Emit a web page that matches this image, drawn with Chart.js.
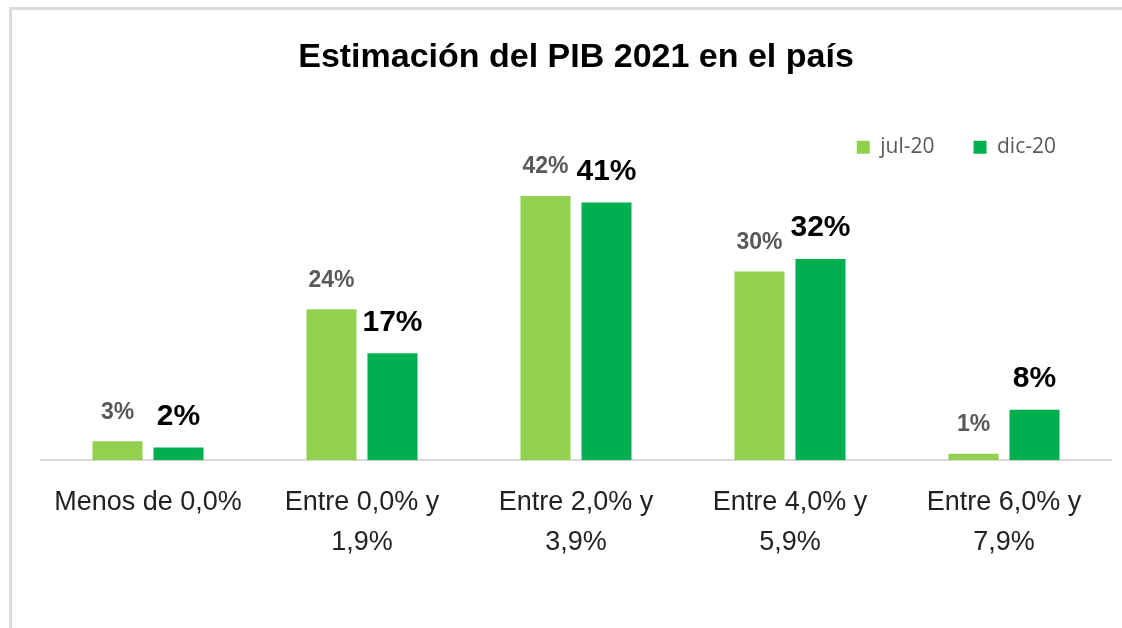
<!DOCTYPE html>
<html>
<head>
<meta charset="utf-8">
<script src="https://cdn.jsdelivr.net/npm/chart.js@4/dist/chart.umd.min.js"></script>
<style>
  html, body { margin: 0; padding: 0; background: #fff; }
  #wrap { position: relative; width: 1122px; height: 628px; overflow: hidden; }
  #frame {
    position: absolute; left: 9px; top: 7px; right: 0; bottom: 0;
    border-top: 3px solid #dadada; border-left: 3px solid #dadada;
  }
  canvas { position: absolute; left: 0; top: 0; }
</style>
</head>
<body>
<div id="wrap">
  <div id="frame"></div>
  <canvas id="chart-pib" width="1122" height="628"></canvas>
</div>
<script>
const CATEGORIES = [
  ['Menos de 0,0%'],
  ['Entre 0,0% y', '1,9%'],
  ['Entre 2,0% y', '3,9%'],
  ['Entre 4,0% y', '5,9%'],
  ['Entre 6,0% y', '7,9%'],
];
const SERIES_NAMES = ['jul-20', 'dic-20'];
const JUL_20 = [3, 24, 42, 30, 1];
const DIC_20 = [2, 17, 41, 32, 8];

const LIGHT = '#92d050';
const DARK = '#00b050';

Chart.defaults.font.family = "'Liberation Sans', Arial, sans-serif";

const canvas = document.getElementById('chart-pib');

new Chart(canvas.getContext('2d'), {
  type: 'bar',
  data: {
    labels: CATEGORIES,
    datasets: [
      { label: SERIES_NAMES[0], data: JUL_20, backgroundColor: LIGHT,
        categoryPercentage: 0.57, barPercentage: 0.82 },
      { label: SERIES_NAMES[1], data: DIC_20, backgroundColor: DARK,
        categoryPercentage: 0.57, barPercentage: 0.82 },
    ],
  },
  options: {
    responsive: false,
    animation: false,
    layout: { padding: { left: 41, right: 11, top: 0, bottom: 43 } },
    plugins: {
      title: {
        display: true,
        text: 'Estimación del PIB 2021 en el país',
        color: '#000',
        font: { size: 34, weight: 'bold' },
        padding: { top: 37, bottom: 20 },
      },
      legend: {
        position: 'top',
        align: 'end',
        labels: {
          boxWidth: 13,
          boxHeight: 13,
          padding: 39,
          color: '#595959',
          font: { family: "'Open Sans', sans-serif", size: 21 },
        },
      },
      tooltip: { enabled: false },
    },
    scales: {
      x: {
        grid: { display: false, drawTicks: false },
        border: { display: true, color: '#d9d9d9', width: 2 },
        ticks: {
          padding: 23,
          color: '#222',
          maxRotation: 0,
          font: { size: 27, lineHeight: 1.46 },
        },
      },
      y: {
        display: false,
        min: 0,
        max: 46.5,
      },
    },
  },
  plugins: [{
    // nudge the legend row a bit left of the plot's right edge, like the original
    id: 'legend-shift',
    afterLayout(chart) {
      if (chart.legend) chart.legend.right -= 16;
    },
  }, {
    id: 'bar-values',
    afterDatasetsDraw(chart) {
      const { ctx } = chart;
      ctx.save();
      ctx.textAlign = 'center';
      ctx.textBaseline = 'middle';
      chart.data.datasets.forEach((ds, di) => {
        const meta = chart.getDatasetMeta(di);
        meta.data.forEach((bar, i) => {
          if (di === 0) {
            ctx.fillStyle = '#595959';
            ctx.font = "bold 23px 'Liberation Sans', Arial, sans-serif";
            ctx.fillText(`${ds.data[i]}%`, bar.x, bar.y - 29);
          } else {
            ctx.fillStyle = '#000';
            ctx.font = "bold 30px 'Liberation Sans', Arial, sans-serif";
            ctx.fillText(`${ds.data[i]}%`, bar.x, bar.y - 31);
          }
        });
      });
      ctx.restore();
    },
  }],
});
</script>
</body>
</html>
